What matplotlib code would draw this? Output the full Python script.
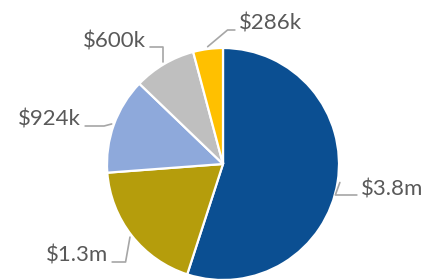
import numpy as np
import matplotlib.pyplot as plt

# Slice data (clockwise from 12 o'clock)
labels = ['$3.8m', '$1.3m', '$924k', '$600k', '$286k']
values = [3800, 1300, 924, 600, 286]
colors = ['#0B4F92', '#B59D0C', '#8EA9DB', '#BFBFBF', '#FFC000']

# label layout (pixel coords, y from top), leader angle at the wedge end
label_pos = [(361, 189), (108, 256), (81, 120), (146, 41), (239, 24)]
label_ha = ['left', 'right', 'right', 'right', 'left']
leader_angle = [70, 80, 15, 90, 40]

W, H = 433, 279
cx, cy, r = 223, 164, 116

fig = plt.figure(figsize=(W / 100, H / 100), dpi=100)
ax = fig.add_axes([0, 0, 1, 1])
ax.set_xlim(0, W)
ax.set_ylim(0, H)
ax.axis('off')

wedges, _ = ax.pie(values, colors=colors, startangle=90, counterclock=False,
                   center=(cx, H - cy), radius=r,
                   wedgeprops=dict(edgecolor='white', linewidth=1.6))
ax.set_xlim(0, W)
ax.set_ylim(0, H)
ax.set_aspect('equal')

for w, lab, (tx, ty), ha, ang in zip(wedges, labels, label_pos, label_ha, leader_angle):
    mid = np.deg2rad((w.theta1 + w.theta2) / 2)
    px = cx + r * 1.02 * np.cos(mid)
    py = (H - cy) + r * 1.02 * np.sin(mid)
    rel = (0, 0.2) if ha == 'left' else (1, 0.2)
    ax.annotate(lab, xy=(px, py), xytext=(tx, H - ty), ha=ha, va='center',
                fontsize=16, family='Lato', color='#595959',
                arrowprops=dict(arrowstyle='-', color='#A6A6A6', lw=1.2,
                                shrinkA=1, shrinkB=0, relpos=rel,
                                connectionstyle=f'angle,angleA=0,angleB={ang},rad=0'))

fig.savefig('out.png', dpi=100)
